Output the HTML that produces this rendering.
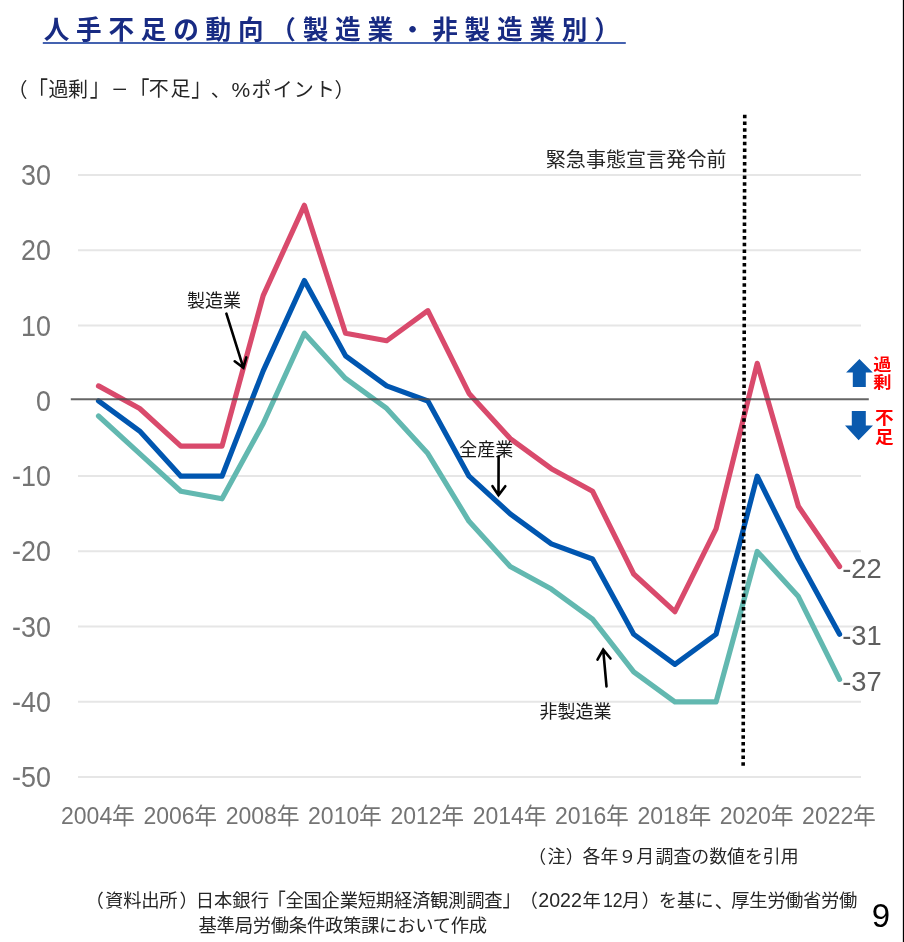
<!DOCTYPE html>
<html lang="ja">
<head>
<meta charset="utf-8">
<title>人手不足の動向（製造業・非製造業別）</title>
<style>
html,body{margin:0;padding:0;background:#fff;}
body{width:904px;height:942px;overflow:hidden;font-family:"Liberation Sans","Noto Sans CJK JP",sans-serif;}
svg{will-change:transform;display:block;position:absolute;left:0;top:0;}
svg text{font-family:"Liberation Sans","Noto Sans CJK JP",sans-serif;}
</style>
</head>
<body>
<svg width="904" height="942" viewBox="0 0 904 942">
<rect width="904" height="942" fill="#fff"/>
<g stroke="#e6e6e6" stroke-width="1.9">
<line x1="78" x2="861" y1="175" y2="175"/>
<line x1="78" x2="861" y1="250.25" y2="250.25"/>
<line x1="78" x2="861" y1="325.5" y2="325.5"/>
<line x1="78" x2="861" y1="476" y2="476"/>
<line x1="78" x2="861" y1="551.25" y2="551.25"/>
<line x1="78" x2="861" y1="626.5" y2="626.5"/>
<line x1="78" x2="861" y1="701.75" y2="701.75"/>
<line x1="78" x2="861" y1="777" y2="777"/>
</g>
<polyline points="98.5,416 139.67,453.62 180.84,491.25 222.01,498.77 263.18,423.52 304.35,333.22 345.52,378.38 386.69,408.47 427.86,453.62 469.03,521.35 510.2,566.5 551.37,589.08 592.54,619.17 633.71,671.85 674.88,701.95 716.05,701.95 757.22,551.45 798.39,596.6 839.56,679.38" fill="none" stroke="#62b8b0" stroke-width="5.2" stroke-linecap="round" stroke-linejoin="round"/>
<polyline points="98.5,400.95 139.67,431.05 180.84,476.2 222.01,476.2 263.18,370.85 304.35,280.55 345.52,355.8 386.69,385.9 427.86,400.95 469.03,476.2 510.2,513.83 551.37,543.92 592.54,558.98 633.71,634.23 674.88,664.33 716.05,634.23 757.22,476.2 798.39,558.98 839.56,634.23" fill="none" stroke="#0056b0" stroke-width="5.2" stroke-linecap="round" stroke-linejoin="round"/>
<polyline points="98.5,385.9 139.67,408.47 180.84,446.1 222.01,446.1 263.18,295.6 304.35,205.3 345.52,333.22 386.69,340.75 427.86,310.65 469.03,393.43 510.2,438.57 551.37,468.68 592.54,491.25 633.71,574.02 674.88,611.65 716.05,528.88 757.22,363.32 798.39,506.3 839.56,566.5" fill="none" stroke="#d94a6c" stroke-width="5.2" stroke-linecap="round" stroke-linejoin="round"/>
<line x1="70.8" x2="868.8" y1="399.2" y2="399.2" stroke="#4a4a4a" stroke-opacity="0.85" stroke-width="1.9"/>
<line x1="744.75" y1="114.7" x2="743.15" y2="767.2" stroke="#000" stroke-width="3.6" stroke-dasharray="3.5 3.2445"/>
<g font-family="'Liberation Sans', sans-serif">
<text transform="matrix(0.94 0 0 1 20.95 185.1)" font-size="28.6" fill="#747474">30</text>
<text transform="matrix(0.94 0 0 1 20.95 260.35)" font-size="28.6" fill="#747474">20</text>
<text transform="matrix(0.94 0 0 1 20.95 335.6)" font-size="28.6" fill="#747474">10</text>
<text transform="matrix(0.94 0 0 1 35.9 410.85)" font-size="28.6" fill="#747474">0</text>
<text transform="matrix(0.94 0 0 1 11.99 486.1)" font-size="28.6" fill="#747474">-10</text>
<text transform="matrix(0.94 0 0 1 11.99 561.35)" font-size="28.6" fill="#747474">-20</text>
<text transform="matrix(0.94 0 0 1 11.99 636.6)" font-size="28.6" fill="#747474">-30</text>
<text transform="matrix(0.94 0 0 1 11.99 711.85)" font-size="28.6" fill="#747474">-40</text>
<text transform="matrix(0.94 0 0 1 11.99 787.1)" font-size="28.6" fill="#747474">-50</text>
<text x="842.19" y="577.63" font-size="27.3" fill="#5e5e5e">-22</text>
<text x="842.19" y="645.4" font-size="27.3" fill="#5e5e5e">-31</text>
<text x="842.19" y="690.9" font-size="27.3" fill="#5e5e5e">-37</text>
<text x="61.04" y="823.62" font-size="23" fill="#747474">2004</text>
<text x="143.38" y="823.62" font-size="23" fill="#747474">2006</text>
<text x="225.72" y="823.62" font-size="23" fill="#747474">2008</text>
<text x="308.06" y="823.62" font-size="23" fill="#747474">2010</text>
<text x="390.4" y="823.62" font-size="23" fill="#747474">2012</text>
<text x="472.74" y="823.62" font-size="23" fill="#747474">2014</text>
<text x="555.08" y="823.62" font-size="23" fill="#747474">2016</text>
<text x="637.42" y="823.62" font-size="23" fill="#747474">2018</text>
<text x="719.76" y="823.62" font-size="23" fill="#747474">2020</text>
<text x="802.1" y="823.62" font-size="23" fill="#747474">2022</text>
<text x="871.75" y="926.76" font-size="33" fill="#000">9</text>
<text x="231.45" y="96.82" font-size="21" fill="#262626">%</text>
<text x="538.31" y="907.05" font-size="19.6" fill="#262626">2022</text>
<text transform="matrix(0.9 0 0 1 603.06 907.14)" font-size="19.6" fill="#262626">12</text>
</g>
<g font-family="'Liberation Sans', 'Noto Sans CJK JP', sans-serif" font-size="22.8" fill="#747474">
<text x="112.01" y="823.91">年</text>
<text x="194.35" y="823.91">年</text>
<text x="276.69" y="823.91">年</text>
<text x="359.03" y="823.91">年</text>
<text x="441.37" y="823.91">年</text>
<text x="523.71" y="823.91">年</text>
<text x="606.05" y="823.91">年</text>
<text x="688.39" y="823.91">年</text>
<text x="770.73" y="823.91">年</text>
<text x="853.07" y="823.91">年</text>
</g>
<text x="43.64" y="38.7" font-family="'Liberation Sans', 'Noto Sans CJK JP', sans-serif" font-size="25.6" font-weight="bold" fill="#182b83" letter-spacing="6.79">人手不足の動向（製造業・非製造業別）</text>
<line x1="42.8" x2="625.8" y1="43.05" y2="43.05" stroke="#4462b0" stroke-width="2.1"/>
<g font-family="'Liberation Sans', 'Noto Sans CJK JP', sans-serif" font-size="20" fill="#262626">
<text x="7.6" y="97.4">（</text>
<text transform="matrix(1 0 0 1.29 28.1 101.03)">「</text>
<text x="48.48" y="96.79" letter-spacing="-0.4">過剰</text>
<text transform="matrix(1 0 0 1.27 89.72 95.72)">」</text>
<text transform="matrix(0.87 0 0 1 111.02 96.91)">－</text>
<text transform="matrix(1 0 0 1.29 129.6 101.03)">「</text>
<text x="148.72" y="96.31" letter-spacing="1.7">不足</text>
<text transform="matrix(1 0 0 1.27 191.32 95.72)">」</text>
<text x="210.66" y="96.88">、</text>
<text x="251.48" y="97.46" letter-spacing="1.2">ポイント</text>
<text x="334.38" y="97.4">）</text>
<text x="545.72" y="166.7" letter-spacing="0.1">緊急事態宣言発令前</text>
</g>
<g font-family="'Liberation Sans', 'Noto Sans CJK JP', sans-serif" font-size="18" fill="#1a1a1a">
<text x="186.92" y="307.33">製造業</text>
<text x="459.33" y="455.96">全産業</text>
<text x="539.48" y="718.35">非製造業</text>
</g>
<g fill="none" stroke="#000" stroke-width="2.6" stroke-linecap="round" stroke-linejoin="miter">
<path d="M226.4 313.7L243.4 367.9M234.7 361.3L243.4 367.9L246.3 357.4"/>
<path d="M498.6 456.5L498.5 495.2M492.5 486.2L498.5 495.2L505.3 486.2"/>
<path d="M606.5 686.4L603.2 649.6M597.5 659.6L603.2 649.6L610.5 658.5"/>
</g>
<path fill="#0a5aae" d="M859.4 359L872.8 372.6L865.8 372.6L865.8 386.9L852.8 386.9L852.8 372.6L846.1 372.6Z"/>
<path fill="#0a5aae" d="M851.8 411.1L865.8 411.1L865.8 425.6L873 425.6L858.6 440.2L845 425.6L851.8 425.6Z"/>
<g font-family="'Liberation Sans', 'Noto Sans CJK JP', sans-serif" font-weight="bold" fill="#ff0000">
<text transform="matrix(1 0 0 0.9 873.13 369.69)" font-size="18.2">過</text>
<text transform="matrix(1 0 0 0.9 873.29 387.62)" font-size="18.2">剰</text>
<text transform="matrix(1 0 0 0.9 874.99 424.42)" font-size="18.6">不</text>
<text transform="matrix(1 0 0 0.9 874.97 442.83)" font-size="18.6">足</text>
</g>
<g font-family="'Liberation Sans', 'Noto Sans CJK JP', sans-serif" font-size="17.9" fill="#262626">
<text x="528.16" y="862.8">（</text>
<text x="547.52" y="862.84">注</text>
<text x="565.68" y="862.8">）</text>
<text x="582.58" y="862.74" letter-spacing="0.03">各年９月</text>
<text x="655.6" y="862.66" letter-spacing="-0.02">調査の数値を引用</text>
</g>
<g font-family="'Liberation Sans', 'Noto Sans CJK JP', sans-serif" font-size="18.33" fill="#262626">
<text x="85.56" y="907.07">（</text>
<text x="105.06" y="907.04" letter-spacing="-0.23">資料出所</text>
<text x="179.56" y="907.07">）</text>
<text x="195.67" y="907.05">日本銀行</text>
<text transform="matrix(1 0 0 1.29 267.59 910.91)">「</text>
<text x="285.42" y="907" letter-spacing="-0.25">全国企業短期経済観測調査</text>
<text transform="matrix(1 0 0 1.27 502.58 906)">」</text>
<text x="519.56" y="907.07">（</text>
<text x="582.42" y="907.1">年</text>
<text x="622.07" y="906.57">月</text>
<text x="641.76" y="907.07">）</text>
<text x="658.86" y="907.31" letter-spacing="-0.13">を基に</text>
<text x="714.65" y="907.74">、</text>
<text x="731.18" y="907.03" letter-spacing="-0.35">厚生労働省労働</text>
<text x="198.54" y="931.85" letter-spacing="-0.27">基準局労働条件政策課において作成</text>
</g>
<rect x="902.85" y="0" width="1.15" height="942" fill="#000"/>
</svg>
</body>
</html>
